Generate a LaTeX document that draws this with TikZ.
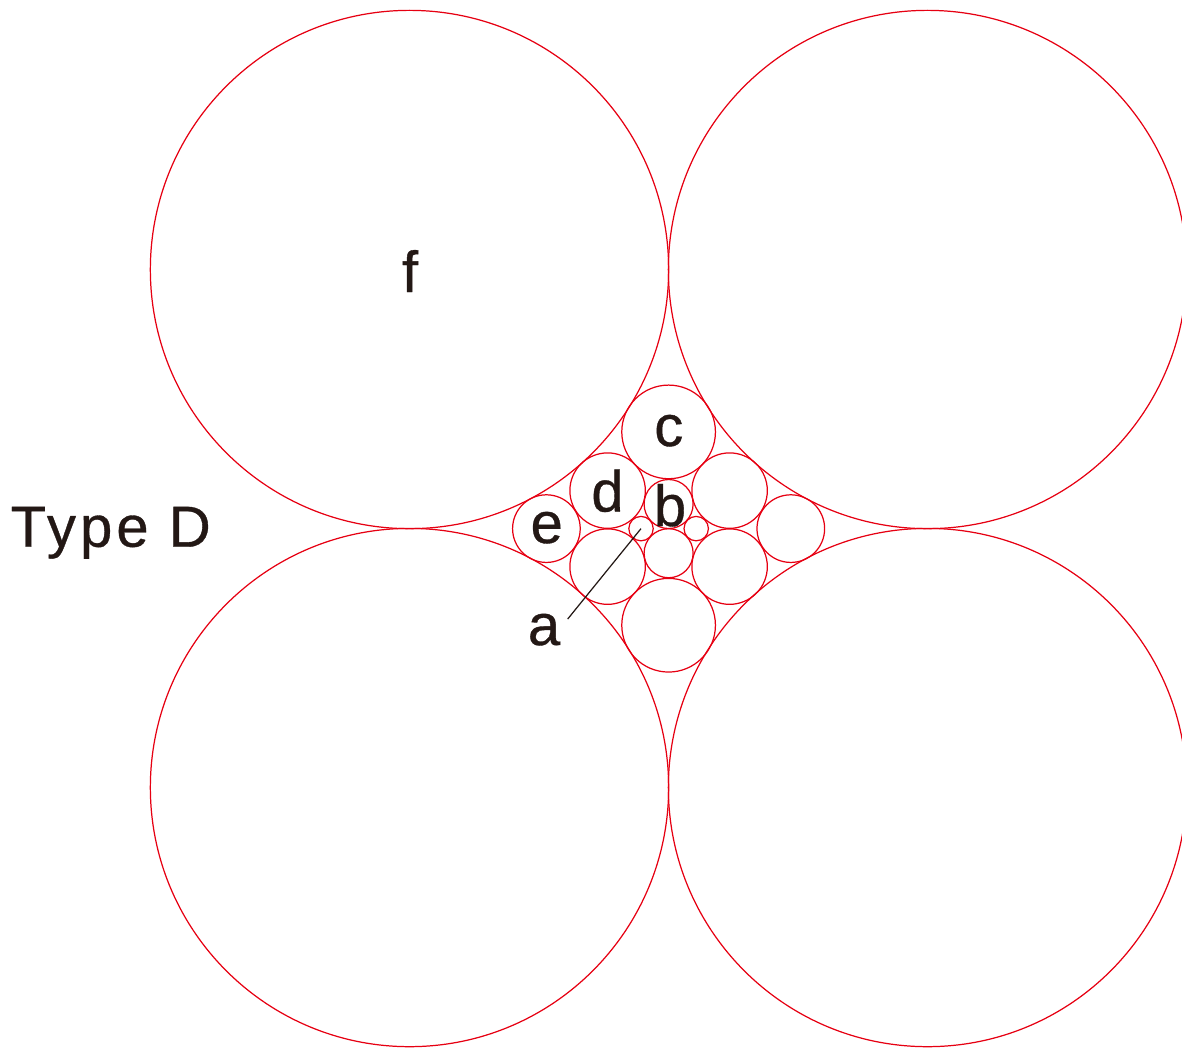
\documentclass[tikz,border=0pt]{standalone}
\usepackage{fontspec}
\setmainfont{Liberation Sans}[FakeBold=0.6]
\definecolor{ringred}{RGB}{230,0,18}
\definecolor{inkdark}{RGB}{35,24,21}
\begin{document}
\begin{tikzpicture}[x=0.01cm,y=-0.01cm,
  ring/.style={draw=ringred,line width=0.35pt},
  lbl/.style={text=inkdark,font=\fontsize{16.5}{18}\selectfont,inner sep=0pt,anchor=base},
  leader/.style={draw=inkdark,line width=0.35pt}]
\useasboundingbox (0,0) rectangle (1182,1047);
% large circles
\coordinate (f1) at (409.5,269.5);
\coordinate (f2) at (927.5,269.5);
\coordinate (f3) at (409.5,787.5);
\coordinate (f4) at (927.5,787.5);
\foreach \p in {f1,f2,f3,f4} \draw[ring] (\p) circle[radius=2.59cm];
% c circles
\coordinate (c1) at (668.6,431.9);
\coordinate (c2) at (668.6,625.2);
\foreach \p in {c1,c2} \draw[ring] (\p) circle[radius=0.468cm];
% d circles
\coordinate (d1) at (607.6,490.6);
\coordinate (d2) at (729.6,490.6);
\coordinate (d3) at (607.6,566.6);
\coordinate (d4) at (729.6,566.6);
\foreach \p in {d1,d2,d3,d4} \draw[ring] (\p) circle[radius=0.377cm];
% e circles
\coordinate (e1) at (546.4,528.6);
\coordinate (e2) at (790.8,528.6);
\foreach \p in {e1,e2} \draw[ring] (\p) circle[radius=0.338cm];
% b circles
\coordinate (b1) at (668.6,504.0);
\coordinate (b2) at (668.6,553.2);
\foreach \p in {b1,b2} \draw[ring] (\p) circle[radius=0.245cm];
% a circles
\coordinate (a1) at (641.0,528.6);
\coordinate (a2) at (696.2,528.6);
\foreach \p in {a1,a2} \draw[ring] (\p) circle[radius=0.122cm];
% labels
\node[lbl] (lf) at (410,292) {f};
\node[lbl] (lc) at (668.8,446) {c};
\node[lbl] (ld) at (607.5,511.5) {d};
\node[lbl] (lb) at (670,526) {b};
\node[lbl] (le) at (546.7,543) {e};
\node[lbl] (la) at (544,645) {a};
\node[lbl,anchor=base west] (ltype) at (10,546.7) {\addfontfeature{LetterSpace=7}Type D};
% leader
\coordinate (aend) at (567.7,619);
\draw[leader] (aend) -- (a1);
\end{tikzpicture}
\end{document}
